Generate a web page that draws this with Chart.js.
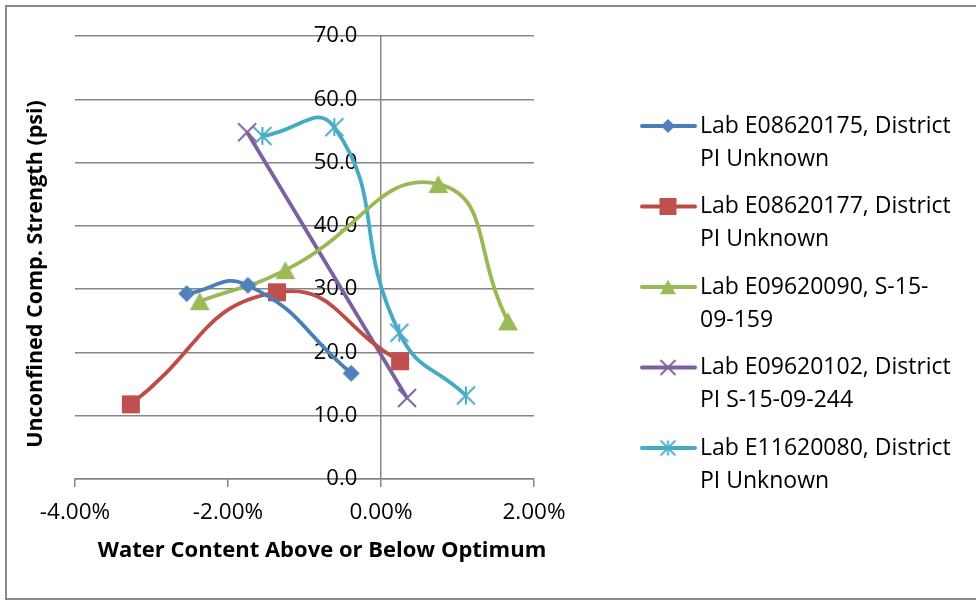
<!DOCTYPE html>
<html>
<head>
<meta charset="utf-8">
<script src="https://cdn.jsdelivr.net/npm/chart.js@4"></script>
<style>
  html, body { margin: 0; padding: 0; background: #fff; }
  #wrap { width: 976px; height: 601px; position: relative; }
</style>
</head>
<body>
<div id="wrap"><canvas id="chart" width="976" height="601"></canvas></div>
<script>
// ---------- data (x in % above/below optimum, y in psi) ----------
const labels = [
  ["Lab E08620175, District", "PI Unknown"],
  ["Lab E08620177, District", "PI Unknown"],
  ["Lab E09620090, S-15-", "09-159"],
  ["Lab E09620102, District", "PI S-15-09-244"],
  ["Lab E11620080, District", "PI Unknown"]
];
const xBlue = [-2.54, -1.74, -0.39];
const yBlue = [29.3, 30.6, 16.7];
const xRed = [-3.27, -1.36, 0.25];
const yRed = [11.8, 29.5, 18.6];
const xGreen = [-2.37, -1.25, 0.75, 1.66];
const yGreen = [28.1, 33.0, 46.6, 24.9];
const xPurple = [-1.75, 0.34];
const yPurple = [54.8, 12.8];
const xCyan = [-1.55, -0.61, 0.24, 1.11];
const yCyan = [54.2, 55.6, 23.1, 13.2];

const xTicks = [-4, -2, 0, 2];
const yTicks = [0, 10, 20, 30, 40, 50, 60, 70];

const lineColors = ["#4A7EBB", "#BE4B48", "#98B954", "#7D60A0", "#46AAC5"];
const markColors = ["#4F81BD", "#C0504D", "#9BBB59", "#8064A2", "#4BACC6"];
const kinds = ["diamond", "square", "triangle", "x", "star"];

const FONT = "'Open Sans', sans-serif";
const GRID = "#868686";

// ---------- markers (small canvases used as pointStyle) ----------
function makeMarker(kind, color, s) {
  const c = document.createElement("canvas");
  c.width = s + 4; c.height = s + 4;
  const g = c.getContext("2d");
  const m = (s + 4) / 2, h = s / 2;
  g.fillStyle = color; g.strokeStyle = color; g.lineWidth = 2;
  g.beginPath();
  if (kind === "diamond") {
    g.moveTo(m, m - h); g.lineTo(m + h, m); g.lineTo(m, m + h); g.lineTo(m - h, m); g.closePath(); g.fill();
  } else if (kind === "square") {
    g.fillRect(m - h, m - h, s, s);
  } else if (kind === "triangle") {
    const th = s * 0.9;
    g.moveTo(m, m - th / 2); g.lineTo(m + h, m + th / 2); g.lineTo(m - h, m + th / 2); g.closePath(); g.fill();
  } else if (kind === "x") {
    g.moveTo(m - h, m - h); g.lineTo(m + h, m + h); g.moveTo(m + h, m - h); g.lineTo(m - h, m + h); g.stroke();
  } else {
    g.moveTo(m - h, m - h); g.lineTo(m + h, m + h); g.moveTo(m + h, m - h); g.lineTo(m - h, m + h);
    g.moveTo(m, m - h); g.lineTo(m, m + h); g.stroke();
  }
  return c;
}
const sizes = [17, 18, 20, 18, 18];
const legendSizes = [14, 17, 16, 15, 15];
const markers = kinds.map((k, i) => makeMarker(k, markColors[i], sizes[i]));
const legendMarkers = kinds.map((k, i) => makeMarker(k, markColors[i], legendSizes[i]));

const xs = [xBlue, xRed, xGreen, xPurple, xCyan];
const ys = [yBlue, yRed, yGreen, yPurple, yCyan];

const datasets = xs.map((xa, i) => ({
  label: labels[i].join(" "),
  data: xa.map((x, j) => ({ x, y: ys[i][j] })),
  showLine: true,
  borderColor: lineColors[i],
  backgroundColor: markColors[i],
  borderWidth: 3.8,
  tension: 0.5,
  pointStyle: markers[i],
  pointRadius: 9
}));

// ---------- plugins: border, axis titles, legend ----------
const decor = {
  id: "decor",
  beforeDraw(chart) {
    const ctx = chart.ctx;
    ctx.save();
    ctx.fillStyle = "#fff";
    ctx.fillRect(0, 0, chart.width, chart.height);
    ctx.strokeStyle = "#898989";
    ctx.lineWidth = 2;
    ctx.strokeRect(6, 6, 980, 593);
    ctx.restore();
  },
  afterDraw(chart) {
    const ctx = chart.ctx;
    ctx.save();
    ctx.fillStyle = "#000";
    ctx.font = "bold 22px " + FONT;
    ctx.textAlign = "center";
    ctx.textBaseline = "middle";
    ctx.fillText("Water Content Above or Below Optimum", 322, 551);
    ctx.translate(36, 274);
    ctx.rotate(-Math.PI / 2);
    ctx.font = "bold 21.5px " + FONT;
    ctx.fillText("Unconfined Comp. Strength (psi)", 0, 0);
    ctx.restore();

    // legend
    ctx.save();
    ctx.font = "23px " + FONT;
    ctx.textAlign = "left";
    ctx.textBaseline = "middle";
    labels.forEach((lines, i) => {
      const y = 126 + i * 80.5;
      ctx.strokeStyle = lineColors[i];
      ctx.lineWidth = 4;
      ctx.lineCap = "round";
      ctx.beginPath(); ctx.moveTo(642, y); ctx.lineTo(695, y); ctx.stroke();
      const mk = legendMarkers[i];
      ctx.drawImage(mk, 668 - mk.width / 2, y - mk.height / 2);
      ctx.fillStyle = "#000";
      lines.forEach((t, k) => ctx.fillText(t, 700, y + k * 33));
    });
    ctx.restore();
  }
};

new Chart(document.getElementById("chart").getContext("2d"), {
  type: "scatter",
  data: { datasets },
  plugins: [decor],
  options: {
    responsive: false,
    animation: false,
    layout: { padding: { left: 75, right: 442, top: 36, bottom: 63 } },
    plugins: { legend: { display: false }, tooltip: { enabled: false } },
    scales: {
      x: {
        type: "linear", min: -4, max: 2,
        afterBuildTicks: (s) => { s.ticks = xTicks.map(v => ({ value: v })); },
        grid: {
          drawOnChartArea: true, drawTicks: true, tickLength: 8, lineWidth: 1.5,
          color: (c) => (c.tick && c.tick.value === 0 ? GRID : "rgba(0,0,0,0)"),
          tickColor: GRID
        },
        border: { color: GRID, width: 1.5 },
        ticks: { color: "#000", padding: 12, font: { family: FONT, size: 22.5 },
                 callback: (v) => v.toFixed(2) + "%" }
      },
      y: {
        type: "linear", min: 0, max: 70,
        position: { x: -0.31 },
        afterBuildTicks: (s) => { s.ticks = yTicks.map(v => ({ value: v })); },
        grid: { color: GRID, lineWidth: 1.5, drawTicks: false },
        border: { display: false },
        ticks: { color: "#000", padding: 0, font: { family: FONT, size: 22 },
                 callback: (v) => v.toFixed(1) }
      }
    }
  }
});
</script>
</body>
</html>
